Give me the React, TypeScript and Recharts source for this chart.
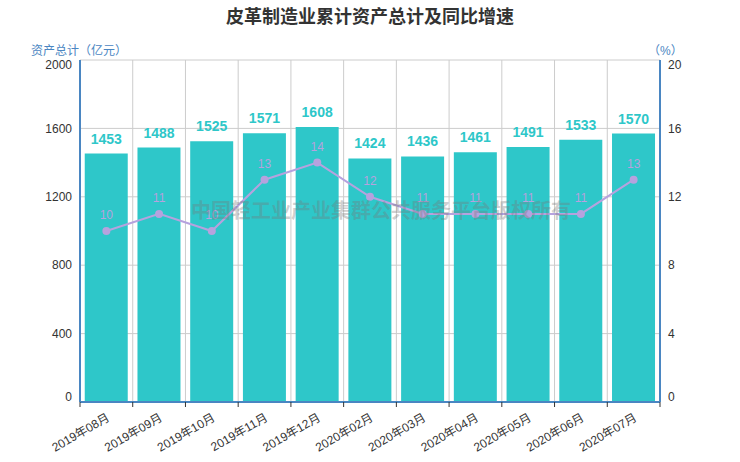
import React from "react";
import { ComposedChart, Bar, Line, XAxis, YAxis, CartesianGrid, LabelList } from "recharts";

const months = [
  "2019年08月", "2019年09月", "2019年10月", "2019年11月", "2019年12月", "2020年02月",
  "2020年03月", "2020年04月", "2020年05月", "2020年06月", "2020年07月",
];
const assets = [1453, 1488, 1525, 1571, 1608, 1424, 1436, 1461, 1491, 1533, 1570];
const growth = [10, 11, 10, 13, 14, 12, 11, 11, 11, 11, 13];
const leftTicks = [0, 400, 800, 1200, 1600, 2000];
const rightTicks = [0, 4, 8, 12, 16, 20];

const data = months.map((m, i) => ({ month: m, assets: assets[i], growth: growth[i] }));

const FONT = "'Liberation Sans', 'Noto Sans CJK SC', sans-serif";
const BAR = "#2ec7c9";
const LINE = "#b6a2de";
const AXIS = "#4a86c2";
const PLOT_W = 580;

function MonthTick(props: any) {
  const { x, y, payload, index } = props;
  const band = PLOT_W / months.length;
  const axisY = y - 8;
  return (
    <g>
      <line x1={x - band / 2} y1={axisY} x2={x - band / 2} y2={axisY + 5} stroke="#333" />
      {index === months.length - 1 && (
        <line x1={x + band / 2} y1={axisY} x2={x + band / 2} y2={axisY + 5} stroke="#333" />
      )}
      <text
        x={0}
        y={0}
        transform={`translate(${x + 4},${y + 10}) rotate(-30)`}
        textAnchor="end"
        fill="#333"
        fontSize={12}
        fontFamily={FONT}
      >
        {payload.value}
      </text>
    </g>
  );
}

function ValueTick(props: any) {
  const { x, y, payload, index, visibleTicksCount, textAnchor } = props;
  // first and last labels sit slightly inside the plot edges
  const shift = index === 0 ? -5 : index === visibleTicksCount - 1 ? 5 : 0;
  return (
    <text x={x} y={y + shift} dy="0.355em" textAnchor={textAnchor} fill="#333" fontSize={12} fontFamily={FONT}>
      {payload.value}
    </text>
  );
}

export default function App() {
  return (
    <div style={{ position: "absolute", left: 0, top: 0, width: 740, height: 462, background: "#fff", fontFamily: FONT }}>
      <div style={{ position: "absolute", left: 0, top: 2, width: 740, textAlign: "center", fontSize: 18, fontWeight: "bold", color: "#333" }}>
        皮革制造业累计资产总计及同比增速
      </div>
      <div style={{ position: "absolute", left: 31, top: 41, fontSize: 12, color: AXIS }}>资产总计（亿元）</div>
      <div style={{ position: "absolute", left: 648, top: 41, fontSize: 12, color: AXIS }}>（%）</div>
      <ComposedChart
        width={740}
        height={462}
        data={data}
        margin={{ top: 60, right: 40, left: 40, bottom: 0 }}
        barCategoryGap="9%"
        style={{ fontFamily: FONT }}
      >
        <CartesianGrid
          stroke="#ccc"
          yAxisId="left"
          verticalCoordinatesGenerator={({ offset }: any) =>
            Array.from({ length: months.length + 1 }, (_, i) => offset.left + (i * offset.width) / months.length)
          }
        />
        <XAxis
          dataKey="month"
          height={60}
          interval={0}
          tickLine={false}
          axisLine={{ stroke: AXIS, strokeWidth: 2 }}
          tick={<MonthTick />}
        />
        <YAxis
          yAxisId="left"
          width={40}
          domain={[0, 2000]}
          ticks={leftTicks}
          tickLine={false}
          axisLine={{ stroke: AXIS, strokeWidth: 2 }}
          tick={<ValueTick />}
        />
        <YAxis
          yAxisId="right"
          orientation="right"
          width={40}
          domain={[0, 20]}
          ticks={rightTicks}
          tickLine={false}
          axisLine={{ stroke: AXIS, strokeWidth: 2 }}
          tick={<ValueTick />}
        />
        <Bar yAxisId="left" dataKey="assets" fill={BAR} isAnimationActive={false}>
          <LabelList dataKey="assets" position="top" offset={10} fill={BAR} fontSize={14} fontWeight="bold" />
        </Bar>
        <Line
          yAxisId="right"
          dataKey="growth"
          type="linear"
          stroke={LINE}
          strokeWidth={2}
          dot={{ r: 4, fill: LINE, stroke: LINE, strokeWidth: 0 }}
          isAnimationActive={false}
        >
          <LabelList dataKey="growth" position="top" offset={12} fill={LINE} fontSize={12} />
        </Line>
      </ComposedChart>
      <div
        style={{
          position: "absolute",
          left: 0,
          top: 195,
          width: 762,
          textAlign: "center",
          fontSize: 20,
          fontWeight: "bold",
          color: "rgba(120,120,120,0.35)",
          pointerEvents: "none",
        }}
      >
        中国轻工业产业集群公共服务平台版权所有
      </div>
    </div>
  );
}
